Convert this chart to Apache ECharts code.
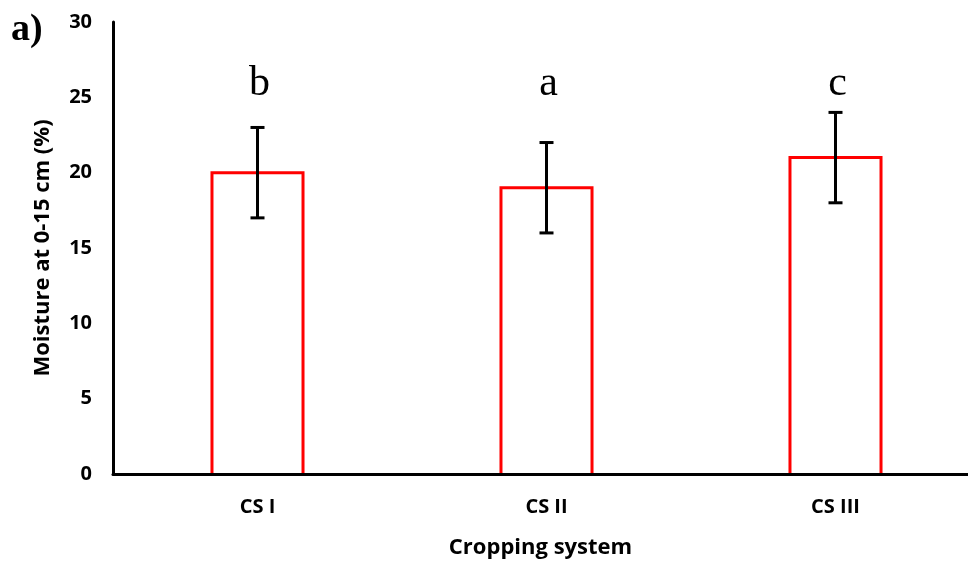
<!DOCTYPE html>
<html><head><meta charset="utf-8">
<script src="https://cdn.jsdelivr.net/npm/echarts@6/dist/echarts.min.js"></script>
<style>html,body{margin:0;padding:0;background:#fff}#c{width:968px;height:565px}</style>
</head><body><div id="c"></div>
<script>
const categories = ['CS I', 'CS II', 'CS III'];
const moisture = [20, 19, 21];
const errLow = [17, 16, 18];
const errHigh = [23, 22, 24];
const letters = ['b', 'a', 'c'];
const letterLevel = 26;
const yTicks = [0, 5, 10, 15, 20, 25, 30];

const chart = echarts.init(document.getElementById('c'));
const font = '"Open Sans", "Liberation Sans", sans-serif';
chart.setOption({
  animation: false,
  backgroundColor: '#fff',
  grid: { left: 113, top: 22, bottom: 91, width: 867, containLabel: false, outerBoundsMode: 'none' },
  graphic: [{ type: 'text', left: 11, top: 11, style: { text: 'a)', font: 'bold 38px "Liberation Serif", serif', fill: '#000' } }],
  xAxis: {
    type: 'category', data: categories, zlevel: 1,
    name: 'Cropping system', nameLocation: 'middle', nameGap: 63,
    nameTextStyle: { fontFamily: font, fontWeight: 'bold', fontSize: 22, color: '#000', padding: [0, 12, 0, 0] },
    axisLine: { lineStyle: { color: '#000', width: 3 } },
    axisTick: { show: false },
    axisLabel: { fontFamily: font, fontWeight: 'bold', fontSize: 20, color: '#000', margin: 23 }
  },
  yAxis: {
    type: 'value', min: 0, max: 30, interval: 5,
    name: 'Moisture at 0-15 cm (%)', nameLocation: 'middle', nameGap: 59,
    nameTextStyle: { fontFamily: font, fontWeight: 'bold', fontSize: 22, color: '#000' },
    axisLine: { show: true, lineStyle: { color: '#000', width: 3 } },
    axisTick: { show: false },
    splitLine: { show: false },
    axisLabel: { fontFamily: font, fontWeight: 'bold', fontSize: 20, color: '#000', margin: 21,
      formatter: v => yTicks.includes(v) ? String(v) : '' }
  },
  series: [
    {
      type: 'custom', z: 1,
      data: categories.map((c, i) => [i, moisture[i]]),
      renderItem: function (params, api) {
        const i = api.value(0);
        const top = api.coord([i, api.value(1)]);
        const base = api.coord([i, 0]);
        const half = api.size([1, 0])[0] * 0.315 / 2;
        return { type: 'polyline', shape: { points: [
          [top[0] - half, base[1]], [top[0] - half, top[1]], [top[0] + half, top[1]], [top[0] + half, base[1]]
        ] }, style: { stroke: '#ff0000', lineWidth: 3, fill: null, lineJoin: 'miter' } };
      }
    },
    {
      type: 'custom', z: 5,
      data: categories.map((c, i) => [i, errLow[i], errHigh[i]]),
      renderItem: function (params, api) {
        const i = api.value(0);
        const lo = api.coord([i, api.value(1)]);
        const hi = api.coord([i, api.value(2)]);
        const lt = api.coord([i, letterLevel]);
        const w = 7;
        const st = { stroke: '#000', lineWidth: 3 };
        return { type: 'group', children: [
          { type: 'line', shape: { x1: lo[0], y1: lo[1], x2: hi[0], y2: hi[1] }, style: st },
          { type: 'line', shape: { x1: hi[0] - w, y1: hi[1], x2: hi[0] + w, y2: hi[1] }, style: st },
          { type: 'line', shape: { x1: lo[0] - w, y1: lo[1], x2: lo[0] + w, y2: lo[1] }, style: st },
          { type: 'text', style: { text: letters[params.dataIndex], x: lt[0] + 2, y: lt[1] + 2, textAlign: 'center', textVerticalAlign: 'middle', font: '42px "Liberation Serif", "DejaVu Serif", serif', fill: '#000' } }
        ] };
      }
    }
  ]
});
</script></body></html>
